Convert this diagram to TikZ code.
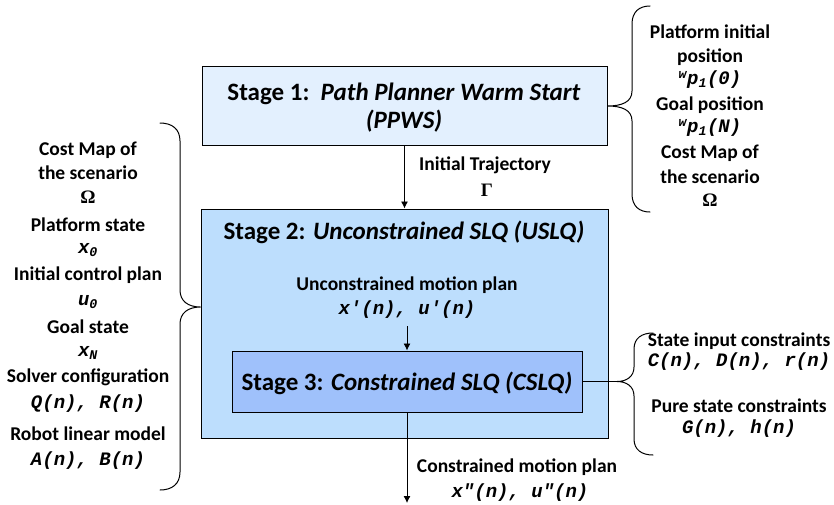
\documentclass[tikz,border=0pt]{standalone}
\usepackage{fontspec}
\setmainfont{Carlito}
\newfontfamily\cour{Liberation Mono}
\newfontfamily\tms{Liberation Serif}
\usetikzlibrary{arrows.meta}

\definecolor{stageA}{HTML}{E3F0FE}
\definecolor{stageB}{HTML}{BDDEFD}
\definecolor{stageC}{HTML}{9FC1FB}

% variables set in a bold italic typewriter face
\newcommand{\vr}[1]{{\cour\bfseries\itshape #1}}
\newcommand{\qs}{\symbol{39}}
\newcommand{\qd}{\symbol{34}}

\tikzset{
  stagebox/.style={draw=black, line width=1pt, inner sep=0pt},
  stagetext/.style={font=\fontsize{25}{28}\selectfont\bfseries, align=center, inner sep=0pt},
  lbl/.style={font=\fontsize{19.5}{22}\selectfont\bfseries, align=center, inner sep=0pt},
  sym/.style={font=\fontsize{19}{20}\selectfont, align=center, inner sep=0pt},
  flow/.style={line width=0.9pt, -{Latex[length=7pt,width=7pt]}},
  brace/.style={line width=1pt, line cap=round},
}

\begin{document}
\begin{tikzpicture}[x=1pt, y=-1pt]
\useasboundingbox (0,0) rectangle (834,504);

% stage boxes
\node[stagebox, fill=stageA, minimum width=405pt, minimum height=79pt] (s1) at (404.5,106) {};
\node[stagebox, fill=stageB, minimum width=407pt, minimum height=229pt] (s2) at (404.5,323.5) {};
\node[stagebox, fill=stageC, minimum width=350pt, minimum height=61pt] (s3) at (407,381.5) {};

\node[stagetext] (t1) at (404,108) {Stage 1:\ \ \textit{Path Planner Warm Start}\\\textit{(PPWS)}};
\node[stagetext] (t2) at (404,232) {Stage 2: \textit{Unconstrained SLQ (USLQ)}};
\node[stagetext] (t3) at (407,383) {Stage 3: \textit{Constrained SLQ (CSLQ)}};

% flow between stages
\draw[flow] (s1.south) -- (s2.north);
\coordinate (u0) at (407,326);
\draw[flow] (u0) -- (s3.north);
\coordinate (out) at (407,503);
\draw[flow] (s3.south) -- (out);

\node[lbl] (it) at (485,165) {Initial Trajectory};
\node[sym] (gam) at (487,190) {\tms\bfseries Γ};
\node[lbl] (um) at (407,285) {Unconstrained motion plan};
\node[sym] (umv) at (407,310) {\vr{x\qs(n), u\qs(n)}};
\node[lbl] (cm) at (517,467) {Constrained motion plan};
\node[sym] (cmv) at (520,493) {\vr{x\qd(n), u\qd(n)}};

% left inputs
\node[lbl] (l1) at (88,150) {Cost Map of};
\node[lbl] (l2) at (88,173) {the scenario};
\node[sym] (l3) at (88,197) {\tms\bfseries Ω};
\node[lbl] (l4) at (88,225) {Platform state};
\node[sym] (l5) at (88,250) {\vr{x\textsubscript{0}}};
\node[lbl] (l6) at (88,275) {Initial control plan};
\node[sym] (l7) at (88,302) {\vr{u\textsubscript{0}}};
\node[lbl] (l8) at (88,327) {Goal state};
\node[sym] (l9) at (88,353) {\vr{x\textsubscript{N}}};
\node[lbl] (l10) at (88,377) {Solver configuration};
\node[sym] (l11) at (88,404) {\vr{Q(n), R(n)}};
\node[lbl] (l12) at (88,434) {Robot linear model};
\node[sym] (l13) at (88,461) {\vr{A(n), B(n)}};

% upper right inputs
\node[lbl] (r1) at (710,32) {Platform initial};
\node[lbl] (r2) at (710,57) {position};
\node[sym] (r3) at (710,80) {\vr{\textsuperscript{w}p\textsubscript{1}(0)}};
\node[lbl] (r4) at (710,105) {Goal position};
\node[sym] (r5) at (710,128) {\vr{\textsuperscript{w}p\textsubscript{1}(N)}};
\node[lbl] (r6) at (710,153) {Cost Map of};
\node[lbl] (r7) at (710,177) {the scenario};
\node[sym] (r8) at (710,200) {\tms\bfseries Ω};

% lower right inputs
\node[lbl] (c1) at (739,341) {State input constraints};
\node[sym] (c2) at (739,362) {\vr{C(n), D(n), r(n)}};
\node[lbl] (c3) at (739,406) {Pure state constraints};
\node[sym] (c4) at (739,429) {\vr{G(n), h(n)}};

% braces
\coordinate (lt) at (s2.west |- 0,307);
\draw[brace] (160,123) .. controls (172,123) and (180,129) .. (180,141)
  -- (180,290) .. controls (180,301) and (188,307) .. (lt)
  .. controls (188,307) and (180,313) .. (180,324)
  -- (180,472) .. controls (180,484) and (172,490) .. (160,490);

\coordinate (rt) at (s1.east);
\draw[brace] (650,6) .. controls (639,6) and (632,12) .. (632,24)
  -- (632,91) .. controls (632,102) and (622,106) .. (rt)
  .. controls (622,106) and (632,110) .. (632,121)
  -- (632,194) .. controls (632,206) and (639,212) .. (650,212);

\coordinate (ct) at (617,381.5);
\draw[line width=1pt] (s3.east) -- (ct);
\draw[brace] (653,333) .. controls (642,333) and (634,338) .. (634,349)
  -- (634,367) .. controls (634,377) and (626,381.5) .. (ct)
  .. controls (626,381.5) and (634,386) .. (634,396)
  -- (634,439) .. controls (634,450) and (642,455) .. (653,455);
\end{tikzpicture}
\end{document}
